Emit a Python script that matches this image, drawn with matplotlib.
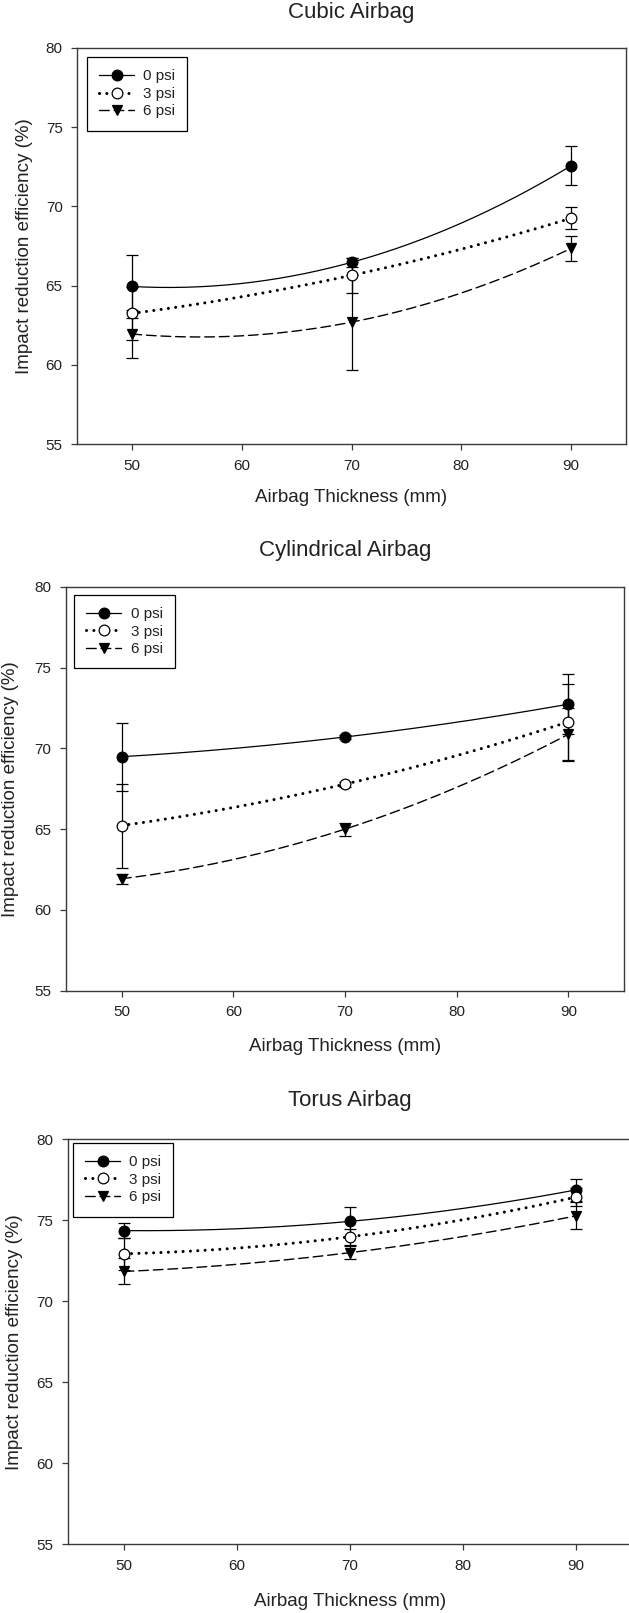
import numpy as np
import matplotlib.pyplot as plt
from matplotlib.lines import Line2D

plt.rcParams['font.family'] = ['Liberation Sans', 'DejaVu Sans']

# ---- data ----
thickness = [50, 70, 90]
pressures = ['0 psi', '3 psi', '6 psi']
titles = ['Cubic Airbag', 'Cylindrical Airbag', 'Torus Airbag']

cubic_mean = [[64.95, 66.47, 72.56],
              [63.25, 65.65, 69.25],
              [61.95, 62.70, 67.35]]
cubic_err = [[2.00, 0.28, 1.23],
             [1.67, 1.10, 0.68],
             [1.50, 3.00, 0.77]]

cyl_mean = [[69.48, 70.70, 72.73],
            [65.22, 67.78, 71.64],
            [61.93, 65.00, 70.87]]
cyl_err = [[2.10, 0.10, 1.85],
           [2.60, 0.15, 2.36],
           [0.30, 0.40, 1.65]]

torus_mean = [[74.35, 74.92, 76.86],
              [72.92, 73.97, 76.42],
              [71.83, 72.99, 75.26]]
torus_err = [[0.48, 0.90, 0.66],
             [1.00, 0.50, 0.55],
             [0.80, 0.40, 0.83]]

panels = [(cubic_mean, cubic_err), (cyl_mean, cyl_err), (torus_mean, torus_err)]

# ---- layout in pixels of the 629x1613 figure: left, right, top, bottom ----
W, H = 629, 1613
boxes = [(77, 626, 47.7, 444.3),
         (65.7, 624.3, 586.7, 990.7),
         (67.7, 632.5, 1139, 1544.3)]
legend_anchor = [(0.0177, 0.976), (0.0149, 0.9795), (0.0089, 0.990)]
title_y = [1.068, 1.069, 1.074]
xlabel_y = [-0.134, -0.137, -0.142]
ylabel_x = [-0.0965, -0.098, -0.095]

styles = [
    dict(ls='-', lw=0.9, marker='o', mfc='black'),
    dict(ls=(0, (0.01, 2.4)), lw=2.2, marker='o', mfc='white'),
    dict(ls=(0, (7, 3.5)), lw=1.0, marker='v', mfc='black'),
]

spine_col = '#3a3a3a'
text_col = '#222222'

fig = plt.figure(figsize=(W / 100, H / 100), dpi=100)

for i, (means, errs) in enumerate(panels):
    l, r, t, b = boxes[i]
    ax = fig.add_axes([l / W, 1 - b / H, (r - l) / W, (b - t) / H])

    xs = np.array(thickness, dtype=float)
    xfine = np.linspace(xs[0], xs[-1], 200)
    handles = []
    for k in range(3):
        st = styles[k]
        y = np.array(means[k])
        # smooth curve through the three means (as in the original plot)
        coef = np.polyfit(xs, y, 2)
        ax.plot(xfine, np.polyval(coef, xfine), color='black', ls=st['ls'],
                lw=st['lw'], dash_capstyle='round', zorder=2)
        ax.errorbar(xs, y, yerr=errs[k], fmt='none', ecolor='black',
                    elinewidth=0.9, capsize=4.5, capthick=0.9, zorder=3)
        ax.plot(xs, y, ls='none', marker=st['marker'], ms=7.7,
                mfc=st['mfc'], mec='black', mew=0.9, zorder=4)
        handles.append(Line2D([], [], color='black', ls=st['ls'], lw=st['lw'],
                              dash_capstyle='round', marker=st['marker'], ms=7.7,
                              mfc=st['mfc'], mec='black', mew=0.9))

    ax.set_xlim(45, 95)
    ax.set_ylim(55, 80)
    ax.set_xticks([50, 60, 70, 80, 90])
    ax.set_yticks([55, 60, 65, 70, 75, 80])
    ax.tick_params(direction='out', width=0.9, colors=spine_col,
                   labelcolor=text_col, labelsize=11, top=False, right=False)
    ax.tick_params(axis='y', length=4.3, pad=6)
    ax.tick_params(axis='x', length=4.0, pad=6.5)
    for sp in ax.spines.values():
        sp.set_color(spine_col)
        sp.set_linewidth(1.0)
    if i == 2:
        ax.spines['right'].set_visible(False)

    ax.set_title(titles[i], fontsize=16, color=text_col, y=title_y[i], va='center')
    ax.set_xlabel('Airbag Thickness (mm)', fontsize=13.5, color=text_col, va='center')
    ax.xaxis.set_label_coords(0.5, xlabel_y[i])
    ax.set_ylabel('Impact reduction efficiency (%)', fontsize=13.5, color=text_col, va='center')
    ax.yaxis.set_label_coords(ylabel_x[i], 0.5)

    leg = ax.legend(handles, pressures, loc='upper left', bbox_to_anchor=legend_anchor[i],
                    borderaxespad=0, fancybox=False, framealpha=1, edgecolor='black',
                    fontsize=11, handlelength=2.3, handletextpad=0.6,
                    labelspacing=0.23, borderpad=0.8)
    leg.get_frame().set_linewidth(0.9)
    for txt in leg.get_texts():
        txt.set_color(text_col)

fig.savefig('out.png', dpi=100)
